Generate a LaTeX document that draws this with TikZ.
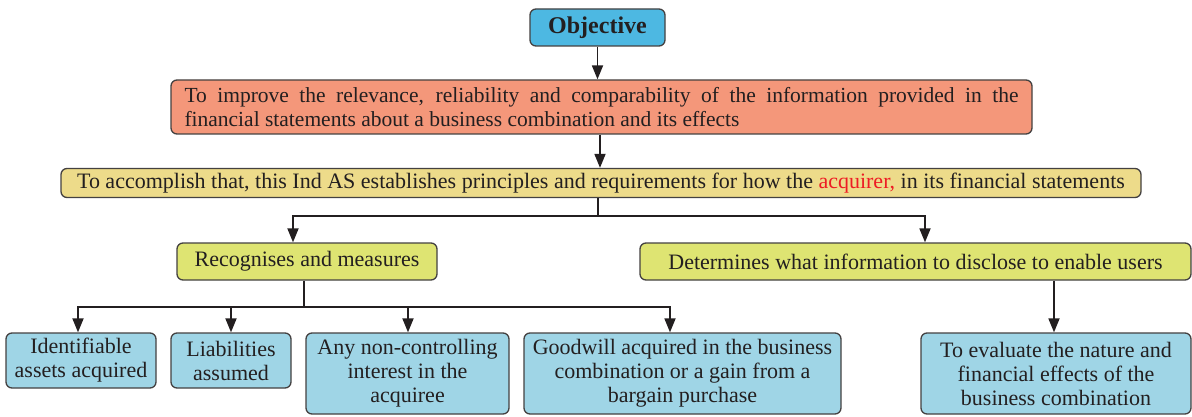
\documentclass[tikz,border=0pt]{standalone}
\usepackage{fontspec}
\setmainfont{Liberation Serif}
\usetikzlibrary{arrows.meta}
\definecolor{objblue}{HTML}{4DB8E2}
\definecolor{salmon}{HTML}{F4977A}
\definecolor{sand}{HTML}{EDDB8A}
\definecolor{lime}{HTML}{DEE472}
\definecolor{paleblue}{HTML}{9FD5E6}
\definecolor{ink}{HTML}{231F20}
\definecolor{accred}{HTML}{ED1C24}
\tikzset{
  box/.style={draw=ink!85, line width=1.3pt, rounded corners=6pt, inner sep=0pt, text=ink, align=center, font=\fontsize{22}{24}\selectfont},
  conn/.style={draw=ink, line width=1.8pt},
  arr/.style={conn, -{Triangle[width=11pt,length=14pt]}},
}
\begin{document}
\begin{tikzpicture}[x=1pt,y=-1pt]
\useasboundingbox (0,0) rectangle (1192,417);
\node[box, fill=objblue, minimum width=135pt, minimum height=37pt, font=\bfseries\fontsize{24}{26}\selectfont] (obj) at (597.5,27.5) {Objective};
\node[box, fill=salmon, minimum width=861pt, minimum height=54pt, align=justify, text width=834pt, font=\fontsize{21.5}{24}\selectfont] (imp) at (601.5,107) {To improve the relevance, reliability and comparability of the information provided in the\linebreak financial statements about a business combination and its effects};
\node[box, fill=sand, minimum width=1080pt, minimum height=29pt] (acc) at (601,183) {To accomplish that, this Ind AS establishes principles and requirements for how the \textcolor{accred}{acquirer,} in its financial statements};
\node[box, fill=lime, minimum width=260pt, minimum height=37pt] (rec) at (307,261.5) {Recognises and measures};
\node[box, fill=lime, minimum width=551pt, minimum height=37pt] (det) at (915.5,261.5) {Determines what information to disclose to enable users};
\node[box, fill=paleblue, minimum width=150pt, minimum height=55pt] (ida) at (81,360.5) {Identifiable\\assets acquired};
\node[box, fill=paleblue, minimum width=120pt, minimum height=55pt] (lia) at (231,360.5) {Liabilities\\assumed};
\node[box, fill=paleblue, minimum width=203pt, minimum height=81pt] (nci) at (407.5,373.5) {Any non-controlling\\interest in the\\acquiree};
\node[box, fill=paleblue, minimum width=317pt, minimum height=81pt] (gw) at (682.5,373.5) {Goodwill acquired in the business\\combination or a gain from a\\bargain purchase};
\node[box, fill=paleblue, minimum width=270pt, minimum height=81pt] (eva) at (1056,373.5) {To evaluate the nature and\\financial effects of the\\business combination};

\coordinate (j1) at (598,216);
\coordinate (j2) at (304,307);
\draw[arr] (obj.south) -- (obj.south |- imp.north);
\draw[arr] (imp.south -| 600,0) -- (acc.north -| 600,0);
\draw[conn] (acc.south -| j1) -- (j1);
\draw[arr] (j1) -| (293,0 |- rec.north);
\draw[arr] (j1) -| (925,0 |- det.north);
\draw[conn] (rec.south -| j2) -- (j2);
\draw[arr] (j2) -| (78,0 |- ida.north);
\draw[arr] (j2) -| (231,0 |- lia.north);
\draw[arr] (j2) -| (408,0 |- nci.north);
\draw[arr] (j2) -| (670,0 |- gw.north);
\draw[arr] (det.south -| 1054,0) -- (eva.north -| 1054,0);
\end{tikzpicture}
\end{document}
